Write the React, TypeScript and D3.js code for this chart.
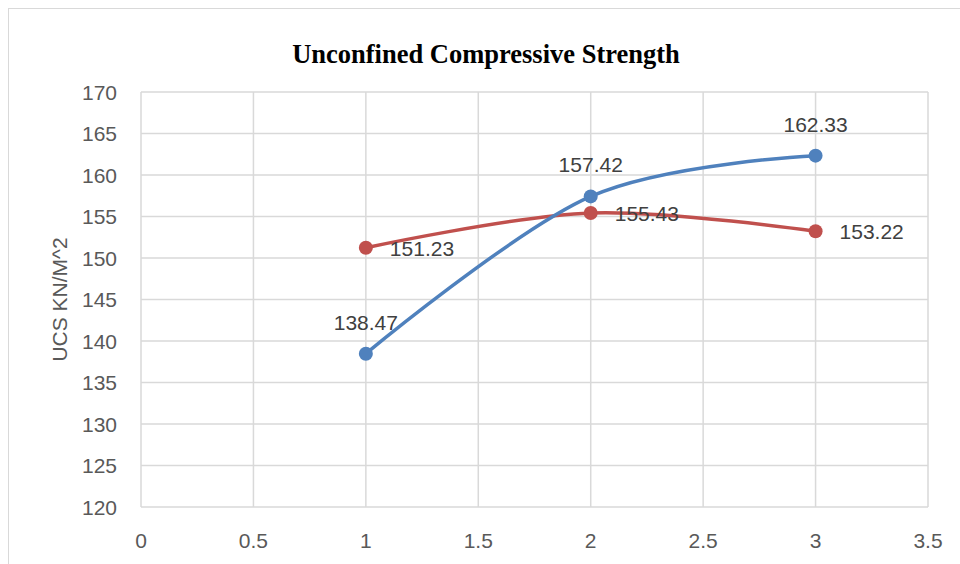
import { useEffect, useRef } from 'react';
import * as d3 from 'd3';

const xValues = [1, 2, 3];
const blueSeries = [138.47, 157.42, 162.33];
const redSeries = [151.23, 155.43, 153.22];
const xTicks = [0, 0.5, 1, 1.5, 2, 2.5, 3, 3.5];
const yTicks = [120, 125, 130, 135, 140, 145, 150, 155, 160, 165, 170];

const title = 'Unconfined Compressive Strength';
const yTitle = 'UCS KN/M^2';

export default function App() {
  const svgRef = useRef<SVGSVGElement>(null);

  useEffect(() => {
    if (!svgRef.current) return;
    const svg = d3.select(svgRef.current);
    svg.selectAll('*').remove();

    const width = 960;
    const height = 564;
    const margin = { left: 141, right: 32, top: 92, bottom: 57 };

    const x = d3.scaleLinear().domain([0, 3.5]).range([margin.left, width - margin.right]);
    const y = d3.scaleLinear().domain([120, 170]).range([height - margin.bottom, margin.top]);

    const font = '"Liberation Sans", Arial, sans-serif';

    svg.append('rect').attr('width', width).attr('height', height).attr('fill', '#fff');

    // outer chart frame
    svg.append('rect')
      .attr('x', 8.5).attr('y', 8.5)
      .attr('width', width + 10).attr('height', height + 10)
      .attr('fill', 'none').attr('stroke', '#d9d9d9').attr('stroke-width', 1);

    svg.append('text')
      .attr('x', 486).attr('y', 63)
      .attr('text-anchor', 'middle')
      .attr('font-family', '"Liberation Serif", "Times New Roman", serif')
      .attr('font-weight', 'bold')
      .attr('font-size', 26.5)
      .attr('fill', '#000')
      .text(title);

    const grid = svg.append('g').attr('stroke', '#d9d9d9').attr('stroke-width', 1.5);
    grid.selectAll('line.h').data(yTicks).join('line')
      .attr('class', 'h')
      .attr('x1', x(0)).attr('x2', x(3.5))
      .attr('y1', d => y(d)).attr('y2', d => y(d));
    grid.selectAll('line.v').data(xTicks).join('line')
      .attr('class', 'v')
      .attr('y1', y(120)).attr('y2', y(170))
      .attr('x1', d => x(d)).attr('x2', d => x(d));

    svg.append('g').selectAll('text').data(yTicks).join('text')
      .attr('x', 117).attr('y', d => y(d) + 7.5)
      .attr('text-anchor', 'end')
      .attr('font-family', font).attr('font-size', 21).attr('fill', '#595959')
      .text(d => d);

    svg.append('g').selectAll('text').data(xTicks).join('text')
      .attr('x', d => x(d)).attr('y', 548)
      .attr('text-anchor', 'middle')
      .attr('font-family', font).attr('font-size', 21).attr('fill', '#595959')
      .text(d => d);

    svg.append('text')
      .attr('transform', `translate(67,${(y(120) + y(170)) / 2}) rotate(-90)`)
      .attr('text-anchor', 'middle')
      .attr('font-family', font).attr('font-size', 21).attr('fill', '#595959')
      .text(yTitle);

    const line = d3.line<number>()
      .x((_, i) => x(xValues[i]))
      .y(d => y(d))
      .curve(d3.curveCatmullRom.alpha(0));

    const series = [
      { values: redSeries, color: '#c0504d', dx: 24, dy: 8, anchor: 'start' },
      { values: blueSeries, color: '#4f81bd', dx: 0, dy: -24, anchor: 'middle' },
    ];

    series.forEach(s => {
      svg.append('path')
        .attr('d', line(s.values))
        .attr('fill', 'none')
        .attr('stroke', s.color)
        .attr('stroke-width', 3.5)
        .attr('stroke-linecap', 'round');
      svg.append('g').selectAll('circle').data(s.values).join('circle')
        .attr('cx', (_, i) => x(xValues[i]))
        .attr('cy', d => y(d))
        .attr('r', 7)
        .attr('fill', s.color);
    });

    series.forEach(s => {
      svg.append('g').selectAll('text').data(s.values).join('text')
        .attr('x', (_, i) => x(xValues[i]) + s.dx)
        .attr('y', d => y(d) + s.dy)
        .attr('text-anchor', s.anchor)
        .attr('font-family', font).attr('font-size', 21).attr('fill', '#404040')
        .text(d => d.toFixed(2));
    });
  }, []);

  return (
    <svg
      ref={svgRef}
      width={960}
      height={564}
      style={{ position: 'absolute', left: 0, top: 0 }}
    />
  );
}
